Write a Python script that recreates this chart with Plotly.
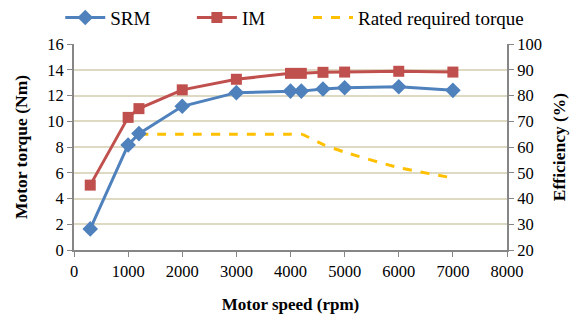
import plotly.graph_objects as go

speed = [300, 1000, 1200, 2000, 3000, 4000, 4200, 4600, 5000, 6000, 7000]
srm_eff = [28.2, 60.8, 65.2, 75.8, 81.1, 81.7, 81.7, 82.5, 83.0, 83.4, 82.0]
im_eff = [45.2, 71.5, 74.9, 82.2, 86.3, 88.6, 88.6, 89.0, 89.1, 89.4, 89.1]
rated_speed = [1200, 2000, 3000, 4000, 4200, 4600, 5000, 6000, 7000]
rated_torque = [9, 9, 9, 9, 9, 8.2, 7.6, 6.4, 5.6]
series_names = ["SRM", "IM", "Rated required torque"]

FONT = "Liberation Serif, Times New Roman, serif"
GRID = "#DDD9C3"
AX = "#868686"

def f(size):
    return dict(family=FONT, size=size, color="#000000")

fig = go.Figure()
fig.add_trace(go.Scatter(x=speed, y=srm_eff, name=series_names[0], yaxis="y2", mode="lines+markers",
                         legend="legend",
                         line=dict(color="#4F81BD", width=3),
                         marker=dict(symbol="diamond", size=12, color="#4F81BD")))
fig.add_trace(go.Scatter(x=speed, y=im_eff, name=series_names[1], yaxis="y2", mode="lines+markers",
                         legend="legend2",
                         line=dict(color="#C0504D", width=3),
                         marker=dict(symbol="square", size=11, color="#C0504D")))
fig.add_trace(go.Scatter(x=rated_speed, y=rated_torque, name=series_names[2], yaxis="y",
                         legend="legend3",
                         mode="lines", line=dict(color="#FFC000", width=3, dash="dash", shape="spline", smoothing=0.6)))

def leg(x):
    return dict(orientation="h", x=x, xanchor="left", xref="container",
                y=0.945, yanchor="middle", yref="container", itemwidth=40,
                font=f(19), bgcolor="rgba(0,0,0,0)")

fig.update_layout(
    width=585, height=320,
    margin=dict(l=74, r=78, t=44, b=70, autoexpand=False),
    paper_bgcolor="white", plot_bgcolor="white",
    font=f(16.5),
    showlegend=True,
    legend=leg(0.103),
    legend2=leg(0.328),
    legend3=leg(0.5265),
    xaxis=dict(range=[0, 8000], tickvals=list(range(0, 8001, 1000)), showgrid=False,
               showline=True, linecolor=AX, linewidth=2, ticks="outside", ticklen=5, tickcolor=AX,
               tickfont=f(16.5), zeroline=False,
               title=dict(text="<b>Motor speed (rpm)</b>", font=f(17), standoff=18)),
    yaxis=dict(range=[0, 16], tickvals=list(range(0, 17, 2)), showgrid=True, gridcolor=GRID, gridwidth=2,
               showline=True, linecolor=AX, linewidth=2, ticks="outside", ticklen=5, tickcolor=AX,
               tickfont=f(16.5), zeroline=False,
               title=dict(text="<b>Motor torque (Nm)</b>", font=f(17.5), standoff=15)),
    yaxis2=dict(range=[20, 100], tickvals=list(range(20, 101, 10)), overlaying="y", side="right",
                showgrid=False, showline=True, linecolor=AX, linewidth=2, ticks="outside", ticklen=5,
                tickcolor=AX, tickfont=f(16.5), zeroline=False,
                title=dict(text="<b>Efficiency (%)</b>", font=f(17.5), standoff=12)),
)
fig.write_html("out.html")
